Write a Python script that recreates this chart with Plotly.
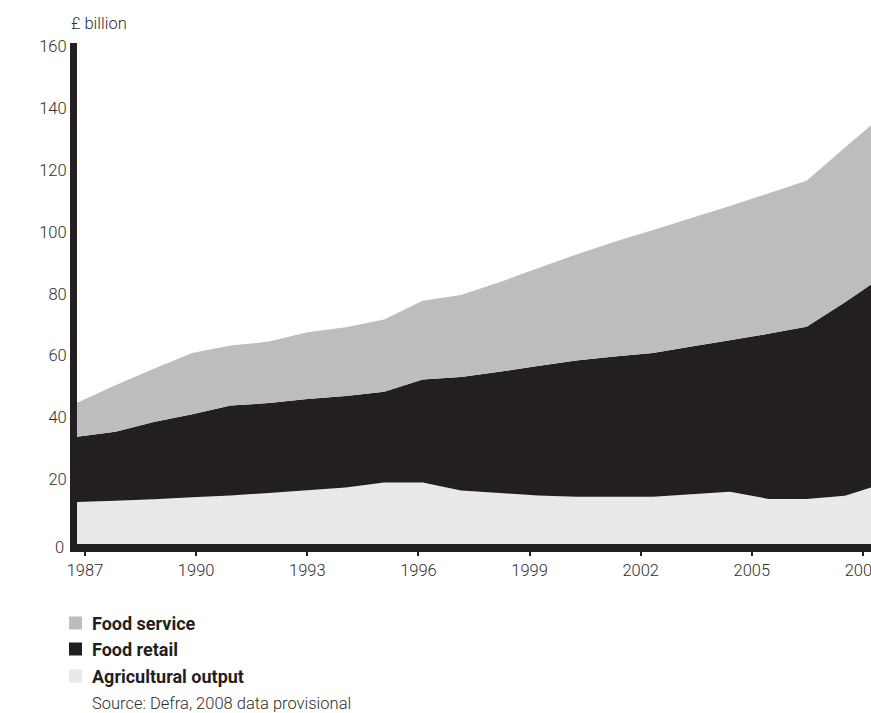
import plotly.graph_objects as go

# UK food chain value, £ billion (2008 provisional)
years = list(range(1987, 2009))
agricultural_output = [13.6, 14.0, 14.5, 15.1, 15.7, 16.5, 17.4, 18.3, 19.9, 19.9, 17.3,
                       16.5, 15.7, 15.3, 15.3, 15.3, 16.1, 16.9, 14.6, 14.6, 15.6, 19.6]
food_retail = [21.1, 22.3, 25.0, 26.9, 29.1, 29.1, 29.5, 29.6, 29.4, 33.3, 36.7,
               39.2, 41.9, 44.1, 45.4, 46.5, 47.8, 49.0, 53.4, 55.7, 62.6, 67.1]
food_service = [11.0, 15.1, 17.2, 19.8, 19.4, 19.9, 21.6, 22.2, 23.3, 25.5, 26.6,
                29.0, 31.6, 34.3, 37.1, 39.8, 41.6, 43.5, 45.4, 47.2, 50.1, 52.2]

tick_years = [1987, 1990, 1993, 1996, 1999, 2002, 2005, 2008]
y_ticks = [20, 40, 60, 80, 100, 120, 140, 160]

C_SERVICE = "#bcbdbf"
C_RETAIL = "#231f20"
C_AGRI = "#e8e9e9"
TEXT = "#2e2e2e"
FONT = "Roboto"
LIGHT = dict(family=FONT, size=16.5, color=TEXT, weight=300)
BOLD = dict(family=FONT, size=18, color="#231f20", weight=700)

series = [
    ("Agricultural output", agricultural_output, C_AGRI),
    ("Food retail", food_retail, C_RETAIL),
    ("Food service", food_service, C_SERVICE),
]

fig = go.Figure()
for name, vals, col in series:
    fig.add_trace(go.Scatter(
        x=years, y=vals, name=name, mode="none",
        stackgroup="food", fillcolor=col,
        xaxis="x2", yaxis="y", showlegend=False,
    ))

# empty carrier trace so the year axis (x) gets drawn
fig.add_trace(go.Scatter(x=tick_years, y=[None] * len(tick_years), mode="markers",
                         marker=dict(opacity=0), xaxis="x", yaxis="y",
                         hoverinfo="skip", showlegend=False))

fig.update_layout(
    width=871, height=713,
    margin=dict(l=77, r=0, t=43, b=169),
    paper_bgcolor="white", plot_bgcolor="white",
    font=dict(family=FONT, size=16.5, color=TEXT),
    xaxis=dict(
        range=[1986.784, 2008.216], tickvals=tick_years,
        ticks="outside", ticklen=4, tickwidth=1.5, tickcolor=C_RETAIL,
        showline=True, linewidth=8, linecolor=C_RETAIL,
        showgrid=False, zeroline=False, tickfont=LIGHT,
        ticklabeloverflow="allow", automargin=False,
    ),
    xaxis2=dict(range=[1987, 2007.677], overlaying="x", anchor="y", visible=False,
                automargin=False),
    yaxis=dict(
        range=[0, 162.1], tickvals=y_ticks, ticks="",
        showline=True, linewidth=7, linecolor=C_RETAIL,
        showgrid=False, zeroline=False, ticklabelshift=-3,
        tickfont=LIGHT, automargin=False,
    ),
    showlegend=False,
)

annotations = [
    dict(text="£ billion", xref="paper", yref="paper", x=0, y=1,
         xanchor="left", yanchor="middle", xshift=-8, yshift=20, showarrow=False,
         font=LIGHT),
    dict(text="0", xref="paper", yref="paper", x=0, y=0,
         xanchor="right", yanchor="middle", xshift=-11, yshift=-3, showarrow=False,
         font=LIGHT),
]

# key: swatch + bold label per series, top to bottom
key_rows = [("Food service", C_SERVICE, -79), ("Food retail", C_RETAIL, -105),
            ("Agricultural output", C_AGRI, -132)]
shapes = []
for label, col, yc in key_rows:
    shapes.append(dict(type="rect", xref="paper", yref="paper",
                       xsizemode="pixel", ysizemode="pixel", xanchor=0, yanchor=0,
                       x0=-8, x1=5, y0=yc - 6.5, y1=yc + 6.5,
                       fillcolor=col, line=dict(width=0)))
    annotations.append(dict(text=label, xref="paper", yref="paper",
                            x=0, y=0, xanchor="left", yanchor="middle",
                            xshift=13, yshift=yc, showarrow=False, font=BOLD))
annotations.append(dict(text="Source: Defra, 2008 data provisional", xref="paper", yref="paper",
                        x=0, y=0, xanchor="left", yanchor="middle", xshift=13, yshift=-159,
                        showarrow=False, font=LIGHT))

fig.update_layout(annotations=annotations, shapes=shapes)
fig.write_html("out.html")
